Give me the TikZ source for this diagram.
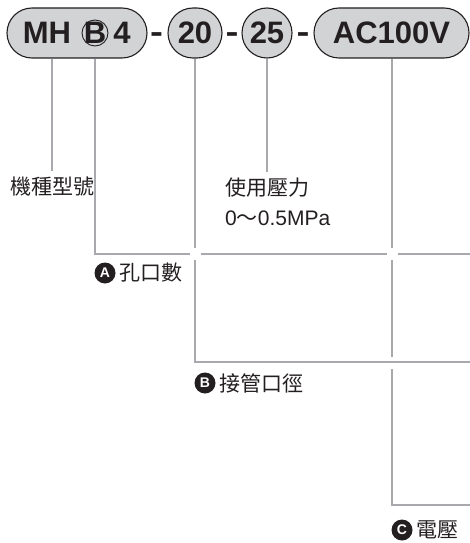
\documentclass[tikz,border=0pt]{standalone}
\usepackage{fontspec}
\setmainfont{Liberation Sans}
\newfontfamily\cjk{Noto Sans CJK TC}
\usetikzlibrary{positioning,calc}
\definecolor{ink}{HTML}{231F20}
\definecolor{pillgray}{HTML}{D1D3D4}
\definecolor{leadgray}{HTML}{A7A9AC}
\tikzset{
  pill/.style={draw=ink, fill=pillgray, line width=1.1pt, rounded corners=25pt, minimum height=50pt, inner sep=0pt, text=ink, font=\fontsize{31}{31}\selectfont\bfseries},
  codetext/.style={text=ink, font=\fontsize{31}{31}\selectfont\bfseries, inner sep=0pt},
  lead/.style={draw=leadgray, line width=2.6pt},
  tag/.style={circle, fill=ink, text=white, minimum size=21pt, inner sep=0pt, font=\fontsize{14}{14}\selectfont\bfseries},
  cjklabel/.style={text=ink, font=\fontsize{21}{30}\selectfont\cjk, inner xsep=0pt, inner ysep=6pt, align=left}
}

\begin{document}
\begin{tikzpicture}[x=1pt, y=-1pt]
  \useasboundingbox (0,0) rectangle (470,543);

  % model code
  \node[pill, minimum width=140pt] (mh) at (77,33) {};
  \node[codetext] (mhtxt) at (47,33) {MH};
  \node[circle, draw=ink, line width=0.9pt, minimum size=26pt, inner sep=0pt] (circB) at (95,33) {};
  \node[codetext] (btxt) at (95,33) {B};
  \node[codetext] (four) at (122,33) {4};
  \node[codetext, anchor=base, xscale=1.25] (d1) at (156.5,43) {-};
  \node[pill, minimum width=54pt] (n20) at (195,33) {20};
  \node[codetext, anchor=base, xscale=1.25] (d2) at (232,43) {-};
  \node[pill, minimum width=50pt] (n25) at (267,33) {25};
  \node[codetext, anchor=base, xscale=1.25] (d3) at (303,43) {-};
  \node[pill, minimum width=155pt] (ac) at (391.5,33) {AC100V};

  % captions
  \node[cjklabel] (kind) at (52,187) {機種型號};
  \node[cjklabel, anchor=north west] (press) at (225,172) {使用壓力\\{\fontspec{Liberation Sans}0}{\cjk ～}{\fontspec{Liberation Sans}0.5MPa}};
  \node[tag] (tA) at (105,273) {A};
  \node[cjklabel, right=4pt of tA] (holes) {孔口數};
  \node[tag] (tB) at (205,383) {B};
  \node[cjklabel, right=4pt of tB] (port) {接管口徑};
  \node[tag] (tC) at (402,530) {C};
  \node[cjklabel, right=4pt of tC] (volt) {電壓};

  \coordinate (cA) at (95,254);
  \coordinate (cB) at (195,362);
  \coordinate (cC) at (392,505);
  \coordinate (rim) at (470,0);

  % leader lines
  \draw[lead] (kind |- mh.south) -- (kind.north);
  \draw[lead] (n25.south) -- (n25.south |- press.north);
  \draw[lead] (circB |- mh.south) -- (cA) -- ($(cA -| n20)+(-5.5,0)$);
  \draw[lead] ($(cA -| n20)+(5.5,0)$) -- ($(cA -| cC)+(-5.5,0)$);
  \draw[lead] ($(cA -| cC)+(5.5,0)$) -- (cA -| rim);
  \draw[lead] (n20.south) -- ($(n20 |- cA)+(0,-6)$);
  \draw[lead] ($(n20 |- cA)+(0,6)$) -- (cB) -- (cB -| rim);
  \draw[lead] (cC |- ac.south) -- ($(cC |- cA)+(0,-6)$);
  \draw[lead] ($(cC |- cA)+(0,6)$) -- ($(cC |- cB)+(0,-5.5)$);
  \draw[lead] ($(cC |- cB)+(0,6.5)$) -- (cC) -- (cC -| rim);
\end{tikzpicture}
\end{document}
